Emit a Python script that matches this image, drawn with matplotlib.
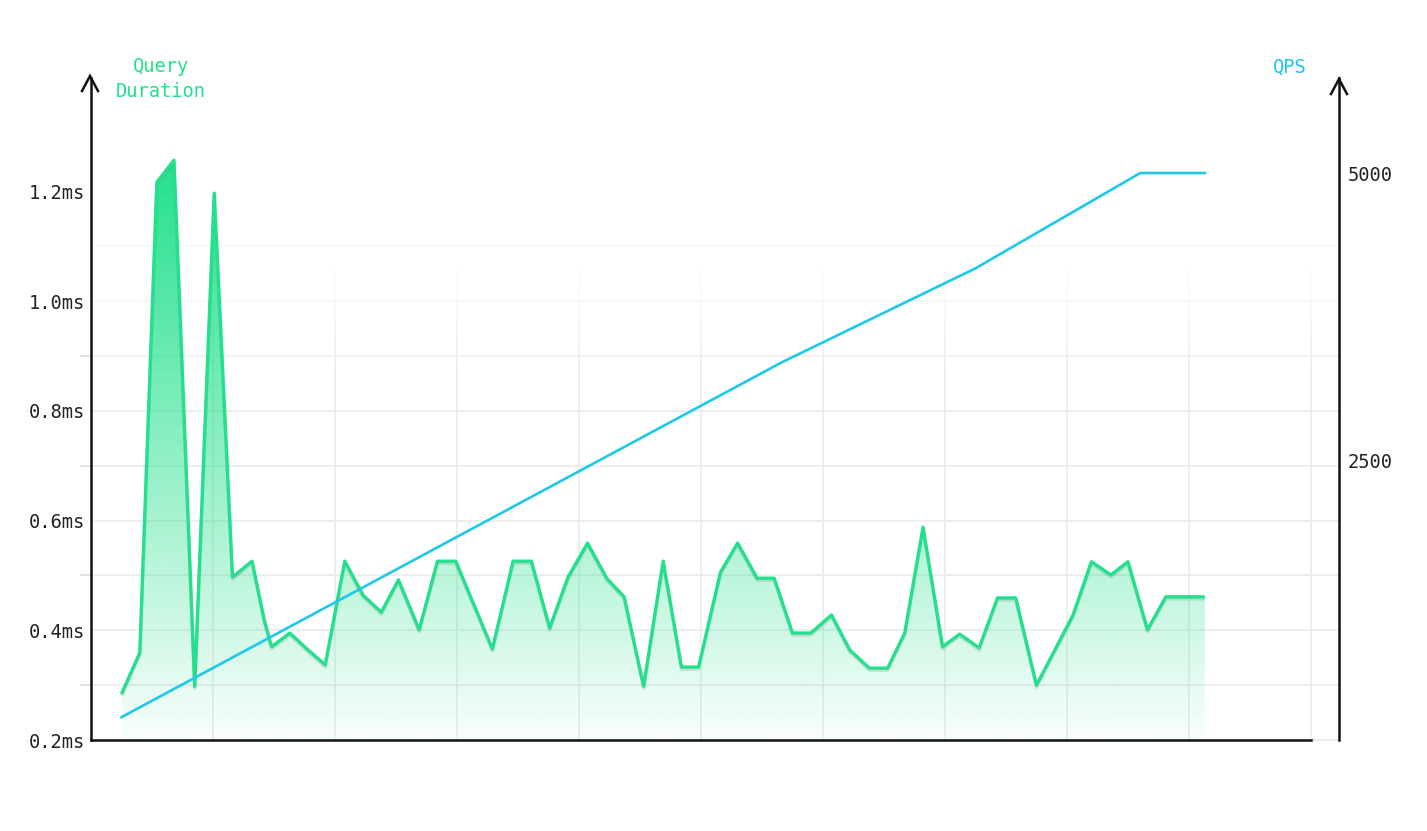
#tuodaan kirjastot
import numpy as np
import matplotlib.pyplot as plt
from matplotlib import patheffects as pe
from matplotlib.patches import Polygon
from matplotlib.lines import Line2D

# Query Duration (ms) -sarja, arvot luettu kuvasta
aika = [0.25, 0.40, 0.54, 0.68, 0.85, 1.01, 1.16, 1.32, 1.42, 1.48,
        1.63, 1.77, 1.92, 2.08, 2.23, 2.38, 2.52, 2.69, 2.84, 2.99,
        3.14, 3.29, 3.46, 3.61, 3.76, 3.91, 4.07, 4.23, 4.37, 4.53,
        4.69, 4.84, 4.98, 5.16, 5.30, 5.46, 5.60, 5.75, 5.90, 6.07,
        6.22, 6.38, 6.53, 6.67, 6.82, 6.98, 7.12, 7.28, 7.43, 7.58,
        7.75, 7.90, 8.05, 8.20, 8.36, 8.50, 8.66, 8.81, 8.98, 9.13]
kesto = [0.284, 0.359, 1.217, 1.257, 0.298, 1.197, 0.497, 0.526, 0.419, 0.370,
         0.395, 0.366, 0.337, 0.526, 0.464, 0.433, 0.492, 0.401, 0.526, 0.526,
         0.446, 0.366, 0.526, 0.526, 0.404, 0.497, 0.559, 0.494, 0.461, 0.298,
         0.526, 0.333, 0.333, 0.506, 0.559, 0.495, 0.495, 0.395, 0.395, 0.428,
         0.364, 0.331, 0.331, 0.395, 0.588, 0.370, 0.393, 0.368, 0.459, 0.459,
         0.300, 0.364, 0.428, 0.525, 0.501, 0.525, 0.401, 0.461, 0.461, 0.461]

# QPS-sarja
qps_aika = [0.25, 5.66, 7.25, 8.60, 9.13]
qps = [260, 3350, 4170, 5000, 5000]

# akselien tikit
kesto_tikit = [0.2, 0.4, 0.6, 0.8, 1.0, 1.2]
kesto_pienet = [0.3, 0.5, 0.7, 0.9]
qps_tikit = [2500, 5000]

vihrea = '#22e08c'
syaani = '#1ec8e8'
musta = '#111111'
fontti = 'DejaVu Sans Mono'

W, H = 1427, 831
fig = plt.figure(figsize=(W / 100, H / 100), dpi=100)
ax = fig.add_axes([91 / W, 91 / H, 1220 / W, (740 - 78) / H])

#gradienttitäyttö viivan alle
pisteet = [(aika[0], 0.2)] + list(zip(aika, kesto)) + [(aika[-1], 0.2)]
alue = Polygon(pisteet, closed=True, facecolor='none', edgecolor='none')
ax.add_patch(alue)
grad = np.zeros((256, 1, 4))
grad[:, 0, :3] = [0x22 / 255, 0xe0 / 255, 0x8c / 255]
grad[:, 0, 3] = np.linspace(0.03, 1.0, 256)
kuva = ax.imshow(grad, extent=[aika[0], aika[-1], 0.2, max(kesto)],
                 origin='lower', aspect='auto', zorder=2)
kuva.set_clip_path(alue)

#viiva + pieni varjo
ax.plot(aika, kesto, color=vihrea, lw=2.4, solid_joinstyle='round',
        solid_capstyle='butt', zorder=3,
        path_effects=[pe.SimpleLineShadow(offset=(0, -1.5), shadow_color='#888888', alpha=0.25),
                      pe.Normal()])

ax.set_xlim(0, 10)
ax.set_ylim(0.2, 0.2 + (740 - 78) / 548.5)

#ruudukko, haalistuu ylöspäin
for y in np.arange(0.3, 1.15, 0.1):
    a = 1.0 if y < 0.85 else max(0.25, 1.0 - (y - 0.8) * 2.4)
    ax.plot([0, (1339 - 91) / 1220], [y, y], transform=ax.get_yaxis_transform(),
            color='#ebebeb', lw=1.2, alpha=a, clip_on=False, zorder=1)
# pohjaviiva jatkuu harmaana oikealle akselille asti
ax.plot([1.0, (1339 - 91) / 1220], [0.2, 0.2], transform=ax.get_yaxis_transform(),
        color='#e6e6e6', lw=1.2, clip_on=False, zorder=1)
for x in range(1, 11):
    ys = np.linspace(0.2, 1.06, 30)
    for i in range(len(ys) - 1):
        a = 1.0 if ys[i] < 0.85 else max(0.0, 1.0 - (ys[i] - 0.85) / 0.21)
        ax.plot([x, x], [ys[i], ys[i + 1]], color='#ebebeb', lw=1.2, alpha=a,
                solid_capstyle='butt', zorder=1, clip_on=False)

#akselit
for s in ['top', 'right']:
    ax.spines[s].set_visible(False)
ax.spines['left'].set_linewidth(1.8)
ax.spines['bottom'].set_linewidth(1.8)
ax.spines['left'].set_color(musta)
ax.spines['bottom'].set_color(musta)
ax.set_xticks([])
ax.set_yticks(kesto_tikit)
ax.set_yticklabels([f'{v:.1f}ms' for v in kesto_tikit], fontfamily=fontti,
                   fontsize=13.5, color='#222222')
ax.set_yticks(kesto_pienet, minor=True)
ax.tick_params(axis='y', which='major', length=0, pad=4)
ax.tick_params(axis='y', which='minor', length=8, width=1.2, color='#dddddd')

#QPS oikealle akselille
ax2 = ax.twinx()
ax2.plot(qps_aika, qps, color=syaani, lw=1.9, solid_joinstyle='round', zorder=4)
ax2.set_ylim(61, 5828)
for s in ['top', 'left', 'bottom']:
    ax2.spines[s].set_visible(False)
ax2.spines['right'].set_position(('axes', (1339 - 91) / 1220))
ax2.spines['right'].set_linewidth(1.8)
ax2.spines['right'].set_color(musta)
ax2.set_yticks(qps_tikit)
ax2.set_yticklabels([str(v) for v in qps_tikit], fontfamily=fontti,
                    fontsize=13.5, color='#222222')
ax2.tick_params(axis='y', length=0, pad=6)

#nuolenkärjet akselien päihin
for kx, ky in [(90, 76), (1339, 79)]:
    fig.add_artist(Line2D([(kx - 8) / W, kx / W, (kx + 8) / W],
                          [1 - (ky + 15) / H, 1 - ky / H, 1 - (ky + 15) / H],
                          transform=fig.transFigure, color=musta, lw=1.8,
                          solid_joinstyle='miter'))

#otsikot
fig.text(161 / W, 1 - 79 / H, 'Query\nDuration', ha='center', va='center',
         color=vihrea, fontfamily=fontti, fontsize=13.5, linespacing=1.35)
fig.text(1290 / W, 1 - 67 / H, 'QPS', ha='center', va='center',
         color=syaani, fontfamily=fontti, fontsize=13.5)

plt.savefig('out.png', dpi=100, facecolor='white')
